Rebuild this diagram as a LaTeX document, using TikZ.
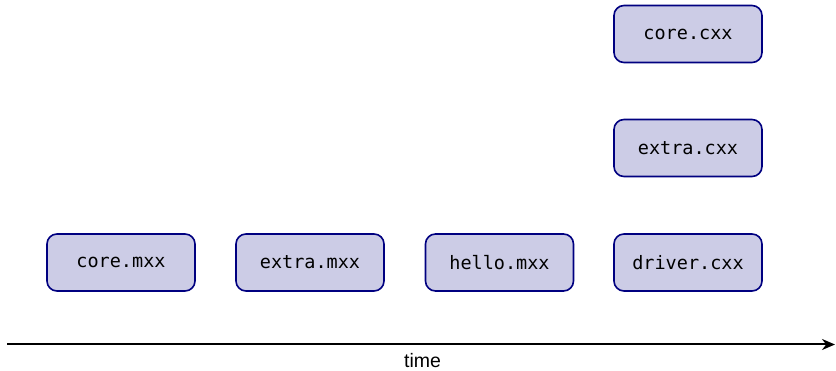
\documentclass[tikz,border=0pt]{standalone}
\usepackage{fontspec}
\setmainfont{Liberation Sans}
\newfontfamily\boxmono{DejaVu Sans Mono}
\usetikzlibrary{arrows.meta}
\definecolor{boxfill}{RGB}{204,204,230}
\definecolor{boxline}{RGB}{0,0,128}
\tikzset{
  modbox/.style={draw=boxline, fill=boxfill, line width=1.6pt, rounded corners=10pt,
    minimum width=148pt, minimum height=57pt, inner sep=0pt,
    font=\boxmono\fontsize{18.5}{22}\selectfont},
  timeline/.style={line width=2pt, -{Stealth[length=13pt,width=11pt]}}
}
\begin{document}
\begin{tikzpicture}[x=1pt,y=-1pt]
\useasboundingbox (0,0) rectangle (836,371);
\node[modbox] (coremxx) at (121,262.5) {core.mxx};
\node[modbox] (extramxx) at (310,262.5) {extra.mxx};
\node[modbox] (hellomxx) at (499.5,262.5) {hello.mxx};
\node[modbox] (drivercxx) at (688,262.5) {driver.cxx};
\node[modbox] (extracxx) at (688,148) {extra.cxx};
\node[modbox] (corecxx) at (688,34) {core.cxx};
\coordinate (t0) at (7,344.5);
\coordinate (t1) at (835,344.5);
\draw[timeline] (t0) -- (t1);
\node[font=\fontsize{19.5}{22}\selectfont, inner sep=0pt, anchor=base] (time) at (422.5,368) {time};
\end{tikzpicture}
\end{document}
